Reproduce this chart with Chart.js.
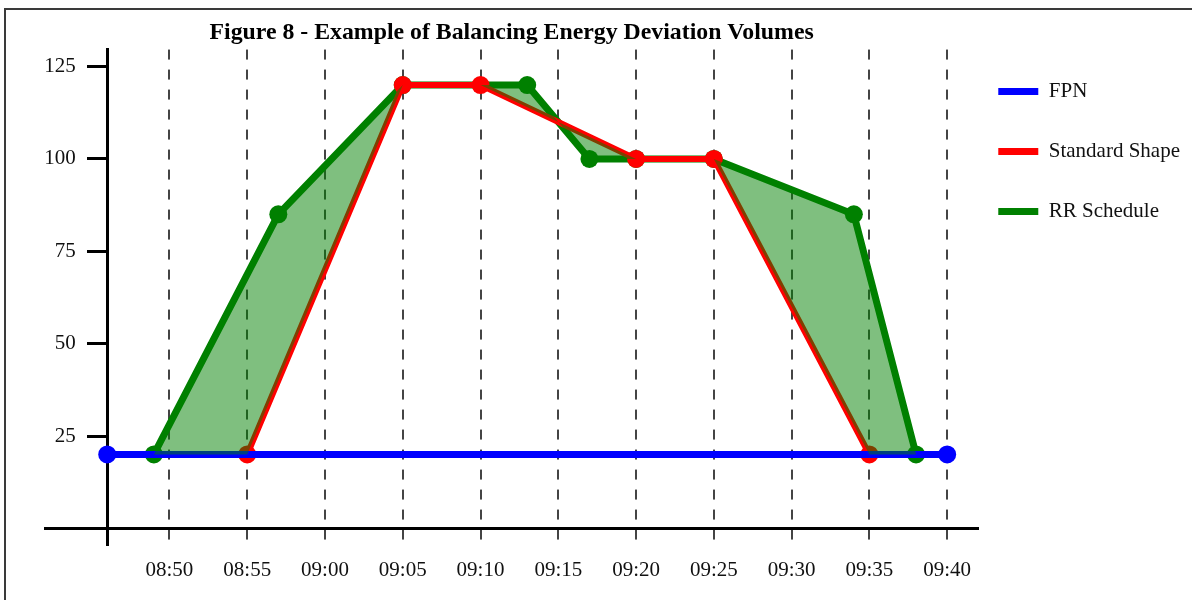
<!DOCTYPE html>
<html>
<head>
<meta charset="utf-8">
<script src="https://cdn.jsdelivr.net/npm/chart.js@4/dist/chart.umd.min.js"></script>
<style>
  body { margin: 0; background: #fff; overflow: hidden; }
  #frame { position: absolute; left: 4px; top: 8px; width: 1300px; height: 700px; border: 2px solid #3a3a3a; }
  #wrap { position: absolute; left: 0; top: 0; width: 1192px; height: 600px; }
</style>
</head>
<body>
<div id="frame"></div>
<div id="wrap"><canvas id="myChart" width="1192" height="600"></canvas></div>
<script>
// chart values
const xTickLabels = ["08:50", "08:55", "09:00", "09:05", "09:10", "09:15", "09:20", "09:25", "09:30", "09:35", "09:40"]
const yTickValues = [25, 50, 75, 100, 125]

const fpnTimes = ["08:46", "09:40"]
const fpnValues = [20, 20]

const stdTimes = ["08:55", "09:05", "09:10", "09:20", "09:25", "09:35"]
const stdValues = [20, 120, 120, 100, 100, 20]

const rrTimes = ["08:49", "08:57", "09:05", "09:13", "09:17", "09:20", "09:25", "09:34", "09:38"]
const rrValues = [20, 85, 120, 120, 100, 100, 100, 85, 20]

const xMin = "08:42"
const xMax = "09:42"

function toMin(t) {
    var parts = t.split(":")
    return parseInt(parts[0]) * 60 + parseInt(parts[1])
}

function toLabel(m) {
    var h = Math.floor(m / 60)
    var mm = Math.round(m - h * 60)
    return (h < 10 ? "0" : "") + h + ":" + (mm < 10 ? "0" : "") + mm
}

function toPoints(times, values) {
    var pts = []
    for (let i = 0; i < times.length; i++) {
        pts.push({x: toMin(times[i]), y: values[i]})
    }
    return pts
}

// lower edge of the shaded area: standard shape, sitting on the FPN level outside it
var fpnPoints = toPoints(fpnTimes, fpnValues)
var fillEdge = [fpnPoints[0]].concat(toPoints(stdTimes, stdValues)).concat([fpnPoints[1]])

const serif = "'Liberation Serif', 'Times New Roman', serif"

var ctx = document.getElementById("myChart")
var myChart = new Chart(ctx, {
    type: "line",
    data: {
        datasets: [
            {
                label: "FPN",
                data: fpnPoints,
                borderColor: "#0000ff",
                backgroundColor: "#0000ff",
                borderWidth: 7,
                pointRadius: 9,
                pointBorderWidth: 0,
                fill: false
            },
            {
                label: "Standard Shape",
                data: toPoints(stdTimes, stdValues),
                borderColor: "#ff0000",
                backgroundColor: "#ff0000",
                borderWidth: 6,
                pointRadius: 9,
                pointBorderWidth: 0,
                fill: false
            },
            {
                label: "RR Schedule",
                data: toPoints(rrTimes, rrValues),
                borderColor: "#008000",
                backgroundColor: "#008000",
                borderWidth: 7,
                pointRadius: 9,
                pointBorderWidth: 0,
                fill: false
            },
            {
                label: "deviation",
                data: fillEdge,
                borderColor: "transparent",
                borderWidth: 0,
                pointRadius: 0,
                backgroundColor: "rgba(0, 128, 0, 0.5)",
                fill: {target: 2},
                order: -1
            }
        ]
    },
    options: {
        responsive: false,
        animation: false,
        events: [],
        layout: {
            padding: {left: 45, top: 8, right: 2, bottom: 55}
        },
        scales: {
            x: {
                type: "linear",
                min: toMin(xMin),
                max: toMin(xMax),
                position: {y: 0},
                afterBuildTicks: function (scale) {
                    scale.ticks = xTickLabels.map(t => ({value: toMin(t)}))
                },
                grid: {
                    color: "#444",
                    lineWidth: 2,
                    drawTicks: false
                },
                border: {
                    color: "#000",
                    width: 3,
                    dash: [10, 10]
                },
                ticks: {
                    padding: 30,
                    color: "#111",
                    font: {family: serif, size: 21},
                    callback: function (v) { return toLabel(v) }
                }
            },
            y: {
                type: "linear",
                min: -4.5,
                max: 129.6,
                position: {x: toMin(fpnTimes[0])},
                afterBuildTicks: function (scale) {
                    scale.ticks = yTickValues.map(v => ({value: v}))
                },
                grid: {
                    drawOnChartArea: false,
                    drawTicks: true,
                    tickLength: 19,
                    tickWidth: 3,
                    tickColor: "#000"
                },
                border: {
                    color: "#000",
                    width: 3
                },
                ticks: {
                    color: "#111",
                    font: {family: serif, size: 21},
                    // labels sit right on the axis when it is placed by value, so pad them with spaces
                    callback: function (v) { return v + "      " }
                }
            }
        },
        plugins: {
            title: {
                display: true,
                fullSize: false,
                text: "Figure 8 - Example of Balancing Energy Deviation Volumes",
                color: "#000",
                font: {family: serif, size: 23.8, weight: "bold"},
                padding: {top: 11, bottom: 2}
            },
            legend: {
                position: "right",
                align: "start",
                fullSize: false,
                title: {
                    display: true,
                    text: " ",
                    font: {size: 10, lineHeight: 1.15},
                    padding: 0
                },
                labels: {
                    boxWidth: 40,
                    boxHeight: 7,
                    padding: 20,
                    color: "#111",
                    font: {family: serif, size: 21, lineHeight: "40px"},
                    generateLabels: function (chart) {
                        var items = Chart.defaults.plugins.legend.labels.generateLabels(chart)
                        return items.filter(it => it.datasetIndex < 3).map(function (it) {
                            it.fillStyle = it.strokeStyle
                            it.lineWidth = 0
                            it.text = [it.text]
                            return it
                        })
                    }
                }
            },
            tooltip: {enabled: false}
        }
    }
})
</script>
</body>
</html>
